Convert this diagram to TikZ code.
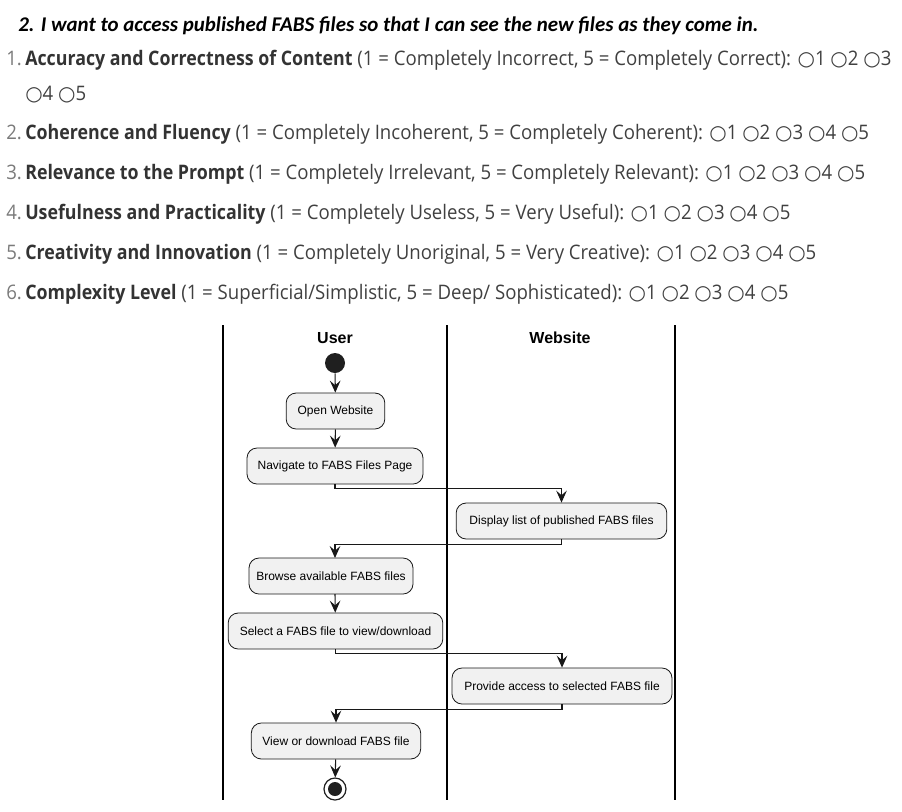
\documentclass[tikz,border=0pt]{standalone}
\usepackage{fontspec}
\setmainfont{Open Sans}[FakeStretch=0.93,BoldFeatures={FakeStretch=0.89}]
\newfontfamily\hdrfont{Carlito}
\newfontfamily\arlfont{Liberation Sans}
\newfontfamily\symfont{DejaVu Sans}
\usetikzlibrary{arrows.meta}
\definecolor{numc}{HTML}{7A7A7A}
\definecolor{txtc}{HTML}{404040}
\definecolor{boldc}{HTML}{333333}
\definecolor{actfill}{HTML}{F1F1F1}
\definecolor{actdraw}{HTML}{181818}
\newcommand{\rb}{{\symfont\fontsize{15pt}{15pt}\selectfont ○}}
\begin{document}
\begin{tikzpicture}[x=0.75pt,y=-0.75pt,
  qline/.style={anchor=base west,inner sep=0pt,font=\fontsize{15pt}{18pt}\selectfont,text=txtc},
  qnum/.style={anchor=base west,inner sep=0pt,font=\fontsize{15pt}{18pt}\selectfont,text=numc},
  act/.style={draw=actdraw,fill=actfill,rounded corners=7.5pt,minimum height=27pt,inner sep=0pt,font=\arlfont\fontsize{9pt}{10pt}\selectfont,line width=0.6pt},
  lane/.style={draw=black,line width=1.2pt},
  flow/.style={draw=actdraw,line width=0.8pt,-{Stealth[length=9pt,width=8pt,inset=3.5pt]}},
  lanehead/.style={font=\arlfont\bfseries\fontsize{12pt}{14pt}\selectfont,inner sep=0pt}]
\useasboundingbox (0,0) rectangle (902,811);
% header
\node[anchor=base west,inner sep=0pt,font=\hdrfont\bfseries\itshape\fontsize{15.7pt}{18pt}\selectfont] (hdr) at (18,31) {2. I want to access published FABS files so that I can see the new files as they come in.};
% questions
\node[qnum] (n1) at (6,65) {1.};
\node[qline] (q1) at (25,65) {\textcolor{boldc}{\bfseries Accuracy and Correctness of Content} (1 = Completely Incorrect, 5 = Completely Correct): \rb1 \rb2 \rb3};
\node[qline] (q1b) at (25,100) {\rb4 \rb5};
\node[qnum] (n2) at (6,139) {2.};
\node[qline] (q2) at (25,139) {\textcolor{boldc}{\bfseries Coherence and Fluency} (1 = Completely Incoherent, 5 = Completely Coherent): \rb1 \rb2 \rb3 \rb4 \rb5};
\node[qnum] (n3) at (6,179) {3.};
\node[qline] (q3) at (25,179) {\textcolor{boldc}{\bfseries Relevance to the Prompt} (1 = Completely Irrelevant, 5 = Completely Relevant): \rb1 \rb2 \rb3 \rb4 \rb5};
\node[qnum] (n4) at (6,219) {4.};
\node[qline] (q4) at (25,219) {\textcolor{boldc}{\bfseries Usefulness and Practicality} (1 = Completely Useless, 5 = Very Useful): \rb1 \rb2 \rb3 \rb4 \rb5};
\node[qnum] (n5) at (6,259) {5.};
\node[qline] (q5) at (25,259) {\textcolor{boldc}{\bfseries Creativity and Innovation} (1 = Completely Unoriginal, 5 = Very Creative): \rb1 \rb2 \rb3 \rb4 \rb5};
\node[qnum] (n6) at (6,299) {6.};
\node[qline] (q6) at (25,299) {\textcolor{boldc}{\bfseries Complexity Level} (1 = Superficial/Simplistic, 5 = Deep/ Sophisticated): \rb1 \rb2 \rb3 \rb4 \rb5};
% lanes
\draw[lane] (223,325) -- (223,800);
\draw[lane] (447,325) -- (447,800);
\draw[lane] (675,325) -- (675,800);
\node[lanehead] (huser) at (335,338) {User};
\node[lanehead] (hweb) at (560,338) {Website};
% start / end
\node[circle,fill=black!88,minimum size=15pt,inner sep=0pt] (start) at (335,363) {};
\node[circle,draw=black!88,line width=0.9pt,fill=white,minimum size=16.5pt,inner sep=0pt] (end) at (335,789) {};
\node[circle,fill=black!88,minimum size=10.5pt,inner sep=0pt] (endin) at (335,789) {};
% activities
\node[act,minimum width=74pt] (ow) at (335.5,411) {Open Website};
\node[act,minimum width=132pt] (nav) at (335,466) {Navigate to FABS Files Page};
\node[act,minimum width=158pt] (disp) at (561.5,521) {Display list of published FABS files};
\node[act,minimum width=123pt] (br) at (331,576) {Browse available FABS files};
\node[act,minimum width=161pt] (sel) at (335.5,631) {Select a FABS file to view/download};
\node[act,minimum width=165pt] (prov) at (562,686) {Provide access to selected FABS file};
\node[act,minimum width=127pt] (view) at (336,741) {View or download FABS file};
% flows
\draw[flow] (start) -- (ow);
\draw[flow] (ow) -- (nav);
\draw[flow] (nav.south) -- ++(0,4) -| (disp.north);
\draw[flow] (disp.south) -- ++(0,5) -| (335,558);
\draw[flow] (335,594) -- (sel);
\draw[flow] (sel.south) -- ++(0,4) -| (prov.north);
\draw[flow] (prov.south) -- ++(0,5) -| (view.north);
\draw[flow] (view) -- (end);
\end{tikzpicture}
\end{document}
